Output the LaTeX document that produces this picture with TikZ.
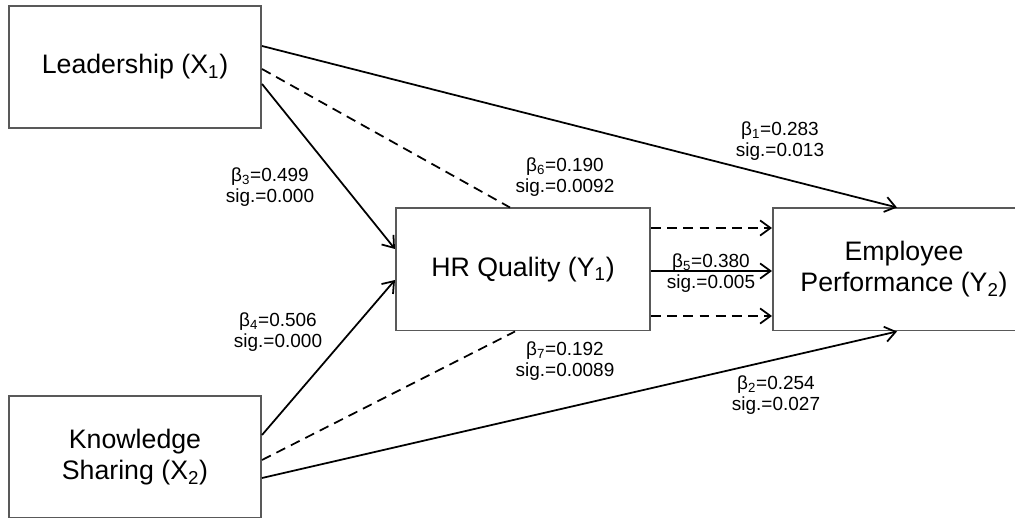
\documentclass[tikz,border=0pt]{standalone}
\usepackage{fontspec}
\setmainfont{Liberation Sans}
\usepackage{tikz}
\usetikzlibrary{arrows.meta,positioning,calc}
\tikzset{
  >={Straight Barb[length=2.6mm,width=3.8mm]},
  every node/.append style={font=\fontsize{13.5}{14.5}\selectfont},
}
\tikzset{
  construct/.style={draw=black!65, line width=1.4pt, minimum width=6.3cm, minimum height=3.05cm,
                    align=center, inner sep=0pt, font=\fontsize{19}{22}\selectfont},
  effect/.style={->, line width=1.25pt},
  mediated/.style={line width=1.25pt, dash pattern=on 7pt off 4.5pt},
  coef/.style={align=center, inner sep=0pt}
}

\begin{document}
\begin{tikzpicture}[x=0.025cm, y=0.025cm]
\useasboundingbox (0,0) rectangle (1015,518);

% Constructs
\node[construct] (lead) at (135,451) {Leadership (X\textsubscript{1})};
\node[construct] (know) at (135,61) {Knowledge\\Sharing (X\textsubscript{2})};
\node[construct, minimum width=6.35cm] (hr) at (523,248.5) {HR Quality (Y\textsubscript{1})};
\node[construct, minimum width=6.55cm] (perf) at (904,248.5) {Employee\\Performance (Y\textsubscript{2})};

% Direct paths
\draw[effect] ($(lead.east)+(0,21)$) -- ($(perf.north)+(-7,0)$);
\draw[effect] ($(lead.east)+(0,-17)$) -- ($(hr.west)+(0,20.5)$);
\draw[effect] ($(know.east)+(0,22)$) -- ($(hr.west)+(0,-10.5)$);
\draw[effect] ($(know.east)+(0,-21)$) -- ($(perf.south)+(-7,0)$);
\draw[effect] ($(hr.east)+(0,-1.5)$) -- ($(perf.west)+(0,-1.5)$);

% Mediated paths
\draw[mediated] ($(lead.east)+(0,-2)$) -- ($(hr.north)+(-13,0)$);
\draw[mediated] ($(know.east)+(0,-3)$) -- ($(hr.south)+(-8,0)$);
\draw[mediated,->] ($(hr.east)+(0,41.5)$) -- ($(perf.west)+(0,41.5)$);
\draw[mediated,->] ($(hr.east)+(0,-46.5)$) -- ($(perf.west)+(0,-46.5)$);

% Coefficients
\node[coef] (b1) at (780,377) {β\textsubscript{1}=0.283\\sig.=0.013};
\node[coef] (b2) at (776,123) {β\textsubscript{2}=0.254\\sig.=0.027};
\node[coef] (b3) at (270,331) {β\textsubscript{3}=0.499\\sig.=0.000};
\node[coef] (b4) at (278,186) {β\textsubscript{4}=0.506\\sig.=0.000};
\node[coef] (b5) at (711,245) {β\textsubscript{5}=0.380\\sig.=0.005};
\node[coef] (b6) at (565,341) {β\textsubscript{6}=0.190\\sig.=0.0092};
\node[coef] (b7) at (565,157) {β\textsubscript{7}=0.192\\sig.=0.0089};

\end{tikzpicture}
\end{document}
